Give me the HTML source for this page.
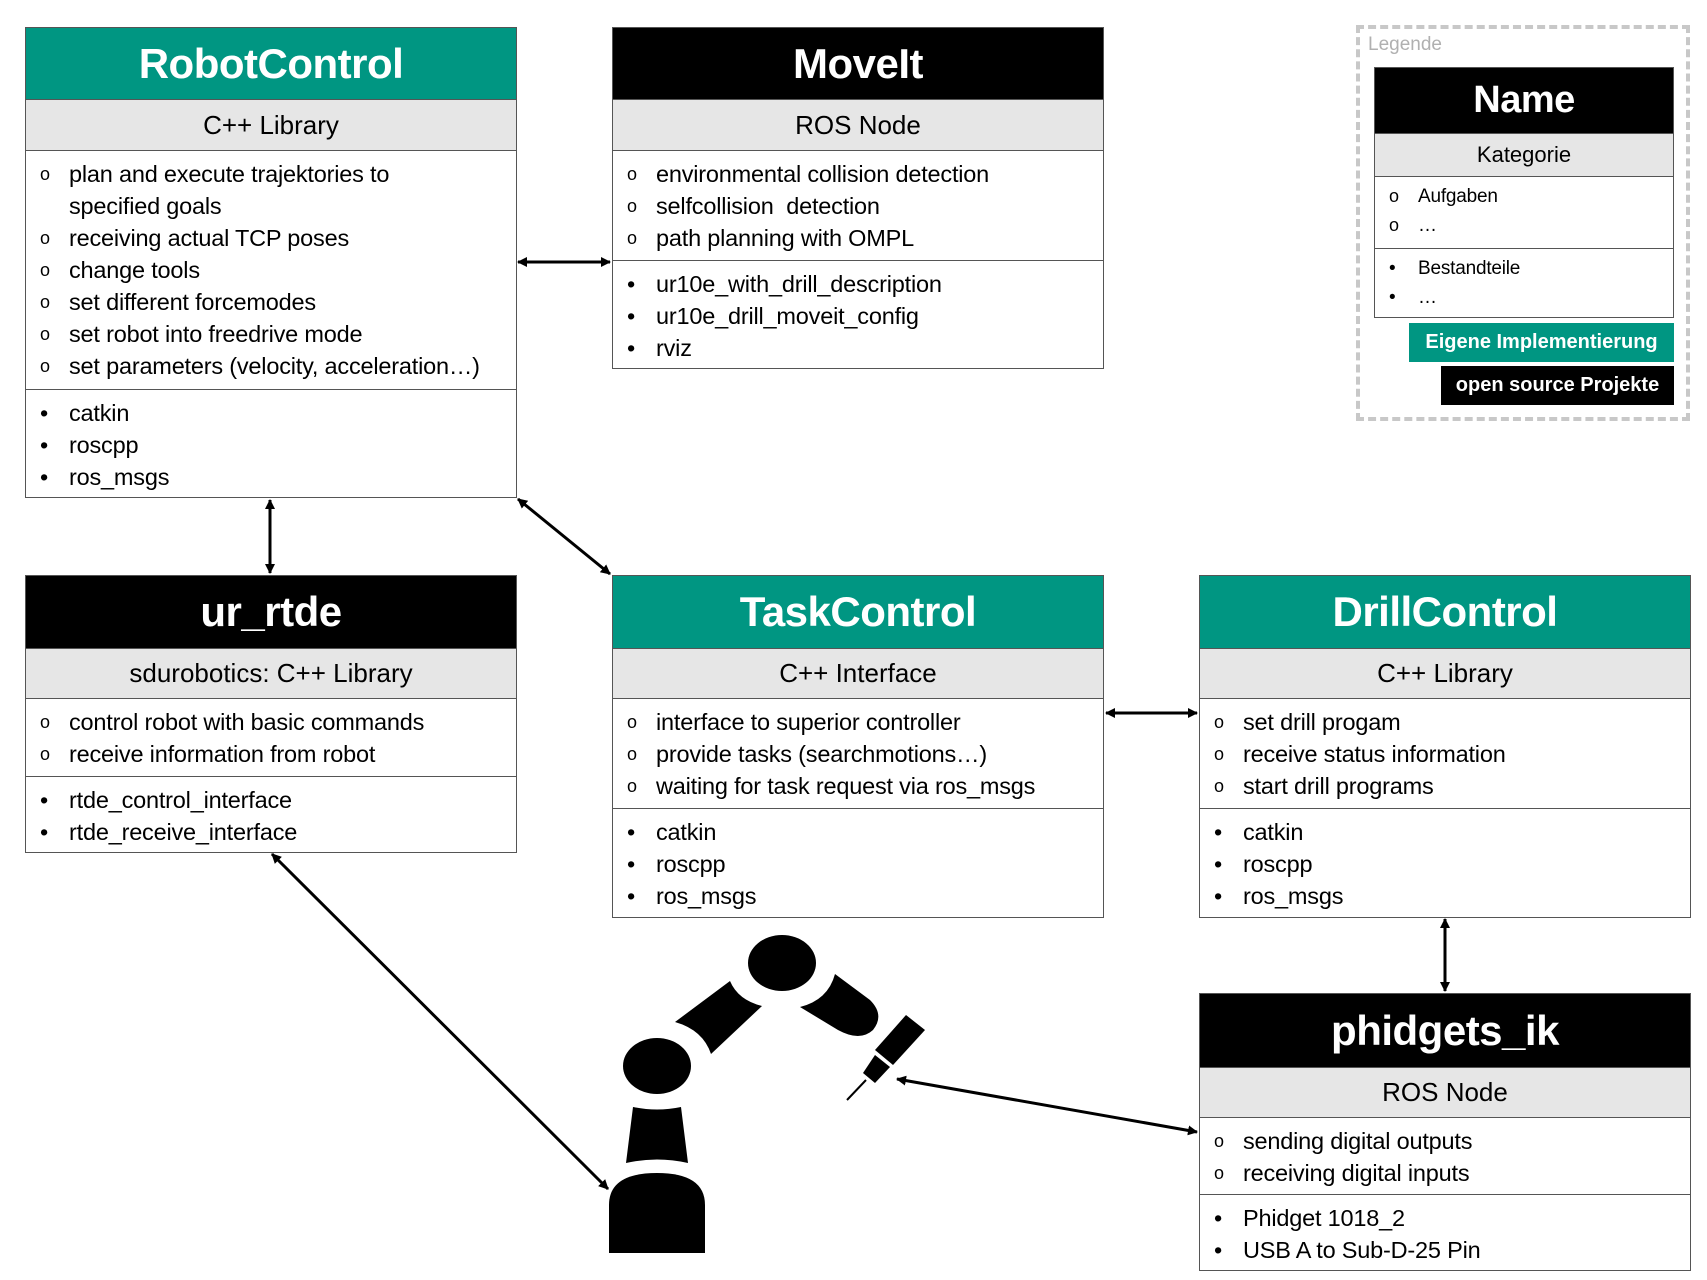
<!DOCTYPE html>
<html><head><meta charset="utf-8"><style>
body{margin:0;width:1707px;height:1280px;background:#fff;position:relative;font-family:"Liberation Sans",sans-serif;overflow:hidden}
.box{position:absolute;border:1px solid #555;background:#fff;box-sizing:border-box}
.h{color:#fff;font-weight:bold;text-align:center;font-size:42px;display:flex;align-items:center;justify-content:center;letter-spacing:-0.5px}
.g{background:#009682}.k{background:#000}
.s{background:#e6e6e6;text-align:center;font-size:26px;display:flex;align-items:center;justify-content:center;border-top:1px solid #555;border-bottom:1px solid #555;box-sizing:border-box}
.l{font-size:23.5px;padding:7px 0 0 14px;box-sizing:border-box;line-height:32px;letter-spacing:-0.2px}
.l div{position:relative;padding-left:29px}
.l.o div:before{content:"o";position:absolute;left:0;font-size:18px}
.l.b div:before{content:"•";position:absolute;left:0}
.sep{border-top:1px solid #555}
svg{position:absolute;left:0;top:0}
</style></head><body>

<div class="box" style="left:25px;top:27px;width:492px;height:471px">
<div class="h g" style="height:71px">RobotControl</div>
<div class="s" style="height:52px">C++ Library</div>
<div class="l o" style="height:238px"><div>plan and execute trajektories to<br>specified goals</div><div>receiving actual TCP poses</div><div>change tools</div><div>set different forcemodes</div><div>set robot into freedrive mode</div><div>set parameters (velocity, acceleration…)</div></div>
<div class="l b sep" style="height:110px"><div>catkin</div><div>roscpp</div><div>ros_msgs</div></div>
</div>

<div class="box" style="left:612px;top:27px;width:492px;height:342px">
<div class="h k" style="height:71px">MoveIt</div>
<div class="s" style="height:52px">ROS Node</div>
<div class="l o" style="height:109px"><div>environmental collision detection</div><div>selfcollision&nbsp; detection</div><div>path planning with OMPL</div></div>
<div class="l b sep" style="height:110px"><div>ur10e_with_drill_description</div><div>ur10e_drill_moveit_config</div><div>rviz</div></div>
</div>

<div class="box" style="left:25px;top:575px;width:492px;height:278px">
<div class="h k" style="height:72px">ur_rtde</div>
<div class="s" style="height:51px">sdurobotics: C++ Library</div>
<div class="l o" style="height:77px"><div>control robot with basic commands</div><div>receive information from robot</div></div>
<div class="l b sep" style="height:77px"><div>rtde_control_interface</div><div>rtde_receive_interface</div></div>
</div>

<div class="box" style="left:612px;top:575px;width:492px;height:343px">
<div class="h g" style="height:72px">TaskControl</div>
<div class="s" style="height:51px">C++ Interface</div>
<div class="l o" style="height:109px"><div>interface to superior controller</div><div>provide tasks (searchmotions…)</div><div>waiting for task request via ros_msgs</div></div>
<div class="l b sep" style="height:110px"><div>catkin</div><div>roscpp</div><div>ros_msgs</div></div>
</div>

<div class="box" style="left:1199px;top:575px;width:492px;height:343px">
<div class="h g" style="height:72px">DrillControl</div>
<div class="s" style="height:51px">C++ Library</div>
<div class="l o" style="height:109px"><div>set drill progam</div><div>receive status information</div><div>start drill programs</div></div>
<div class="l b sep" style="height:110px"><div>catkin</div><div>roscpp</div><div>ros_msgs</div></div>
</div>

<div class="box" style="left:1199px;top:993px;width:492px;height:278px">
<div class="h k" style="height:73px">phidgets_ik</div>
<div class="s" style="height:51px">ROS Node</div>
<div class="l o" style="height:76px"><div>sending digital outputs</div><div>receiving digital inputs</div></div>
<div class="l b sep" style="height:78px"><div>Phidget 1018_2</div><div>USB A to Sub-D-25 Pin</div></div>
</div>

<div style="position:absolute;left:1356px;top:25px;width:334px;height:396px;border:4px dashed #c8c8c8;box-sizing:border-box"></div>
<div style="position:absolute;left:1368px;top:34px;font-size:19px;color:#b0b0b0">Legende</div>
<div class="box" style="left:1374px;top:67px;width:300px;height:251px">
<div class="h k" style="height:65px;font-size:38px">Name</div>
<div class="s" style="height:44px;font-size:22px">Kategorie</div>
<div class="l o" style="height:71px;font-size:19px;line-height:29px;padding-top:5px"><div>Aufgaben</div><div>…</div></div>
<div class="l b sep" style="height:70px;font-size:19px;line-height:29px;padding-top:5px"><div>Bestandteile</div><div>…</div></div>
</div>
<div style="position:absolute;left:1409px;top:323px;width:265px;height:39px;background:#009682;color:#fff;font-weight:bold;font-size:20px;display:flex;align-items:center;justify-content:center">Eigene Implementierung</div>
<div style="position:absolute;left:1441px;top:366px;width:233px;height:39px;background:#000;color:#fff;font-weight:bold;font-size:20px;display:flex;align-items:center;justify-content:center">open source Projekte</div>

<svg width="1707" height="1280">
<defs><marker id="a" markerWidth="10" markerHeight="10" refX="9" refY="5" orient="auto-start-reverse" markerUnits="userSpaceOnUse"><path d="M0,0 L10,5 L0,10 z" fill="#000"/></marker></defs>
<g stroke="#000" stroke-width="3" marker-start="url(#a)" marker-end="url(#a)">
<line x1="518" y1="262" x2="610" y2="262"/>
<line x1="270" y1="500" x2="270" y2="573"/>
<line x1="518" y1="499" x2="610" y2="574"/>
<line x1="1106" y1="713" x2="1197" y2="713"/>
<line x1="1445" y1="919" x2="1445" y2="991"/>
<line x1="272" y1="854" x2="608" y2="1189"/>
<line x1="1197" y1="1132" x2="897" y2="1079"/>
</g>
<g fill="#000">
<path d="M609,1253 L609,1205 Q609,1173 657,1173 Q705,1173 705,1205 L705,1253 Z"/>
<path d="M633,1107 Q657,1112 681,1107 L688,1163 Q657,1156 626,1163 Z"/>
<ellipse cx="657" cy="1066" rx="34" ry="28"/>
<path d="M675,1022 L730,981 Q738,1000 762,1006 L711,1054 Q703,1030 675,1022 Z"/>
<ellipse cx="782" cy="963" rx="34" ry="28"/>
<path d="M835,974 L870,1000 Q885,1015 873,1030 Q860,1042 838,1030 L800,1007 Q828,1000 835,974 Z"/>
<path d="M906,1015 L925,1030 L893,1065 L875,1050 Z"/>
<path d="M875,1055 L890,1067 L875,1083 L863,1073 Z"/>
</g>
<line x1="866" y1="1080" x2="847" y2="1100" stroke="#000" stroke-width="2"/>
</svg>
</body></html>
